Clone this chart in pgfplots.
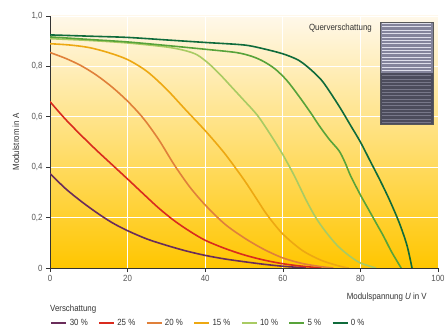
\documentclass[border=0pt]{standalone}
\usepackage{fontspec}
\setmainfont[FakeStretch=0.88]{Liberation Sans}
\usepackage{pgfplots}
\pgfplotsset{compat=1.18}
\definecolor{cthirty}{HTML}{6A2C5A}
\definecolor{ctwentyfive}{HTML}{D92B1E}
\definecolor{ctwenty}{HTML}{E0803A}
\definecolor{cfifteen}{HTML}{EDA812}
\definecolor{cten}{HTML}{A9CB63}
\definecolor{cfive}{HTML}{58A33A}
\definecolor{czero}{HTML}{0F6B3B}
\definecolor{bgtop}{HTML}{FFF8EA}
\definecolor{bgmid}{HTML}{FFE590}
\definecolor{bgbot}{HTML}{FFC600}
\definecolor{txtgray}{HTML}{555555}
\definecolor{boxlight}{RGB}{132,132,155}
\definecolor{boxlines}{RGB}{222,222,234}
\definecolor{boxdark}{RGB}{76,76,92}
\definecolor{boxdlines}{RGB}{120,120,138}
\begin{document}
\begin{tikzpicture}[font=\fontsize{9}{11}\selectfont]
\useasboundingbox (-50bp,-62bp) rectangle (395bp,268bp);
\begin{axis}[
  at={(0,0)}, anchor=south west,
  scale only axis, width=388bp, height=252bp,
  xmin=0, xmax=100, ymin=0, ymax=1,
  axis x line*=bottom, axis y line*=left,
  axis line style={draw=black!80, line width=0.8bp},
  axis background/.style={shade, top color=bgtop, middle color=bgmid, bottom color=bgbot},
  xtick={0,20,40,60,80,100},
  ytick={0,0.2,0.4,0.6,0.8,1.0},
  yticklabels={0,{0,2},{0,4},{0,6},{0,8},{1,0}},
  /pgf/number format/assume math mode=true,
  tick label style={text=txtgray, font=\fontsize{9}{11}\selectfont},
  tick align=outside, major tick length=4bp,
  tick style={draw=black!80, line width=0.6bp},
  grid=major, grid style={white, line width=0.8bp},
  xlabel={Modulspannung \textit{U} in V},
  xlabel style={at={(axis description cs:0.98,0)}, anchor=east, yshift=-29bp, text=black!80},
  ylabel={Modulstrom in A},
  ylabel style={at={(axis description cs:-0.088,0.5)}, anchor=center, text=black!80},
  legend columns=-1,
  legend style={at={(axis description cs:0,-0.218)}, anchor=west, draw=none, fill=none,
    inner sep=0pt, font=\fontsize{9}{11}\selectfont, text=black!80,
    /tikz/every even column/.append style={column sep=8bp}},
  legend image code/.code={\draw[line width=2.6bp] (0bp,0bp) -- (15bp,0bp);},
  every axis plot/.append style={line width=1.6bp, smooth, tension=0.5},
]
\addplot[cthirty] coordinates {(0,0.375)(4,0.315)(8,0.265)(12,0.22)(16,0.18)(20,0.148)(25,0.115)(30,0.09)(35,0.068)(40,0.05)(45,0.036)(50,0.025)(55,0.015)(60,0.007)(66,0)};
\addlegendentry{30 \%}
\addplot[ctwentyfive] coordinates {(0,0.66)(4,0.59)(8,0.527)(12,0.467)(16,0.41)(20,0.353)(24,0.295)(28,0.238)(32,0.188)(36,0.146)(40,0.11)(45,0.078)(50,0.052)(55,0.032)(60,0.017)(65,0.007)(70,0)};
\addlegendentry{25 \%}
\addplot[ctwenty] coordinates {(0,0.855)(4,0.832)(8,0.803)(12,0.765)(16,0.718)(20,0.662)(24,0.595)(28,0.51)(32,0.41)(36,0.322)(40,0.25)(45,0.175)(50,0.12)(55,0.075)(60,0.04)(65,0.018)(70,0.005)(73,0)};
\addlegendentry{20 \%}
\addplot[cfifteen] coordinates {(0,0.89)(5,0.885)(10,0.875)(15,0.855)(20,0.827)(25,0.78)(30,0.71)(35,0.627)(40,0.545)(45,0.455)(50,0.35)(53,0.28)(56,0.21)(60,0.135)(65,0.07)(70,0.03)(75,0.006)(77,0)};
\addlegendentry{15 \%}
\addplot[cten] coordinates {(0,0.91)(10,0.903)(20,0.893)(30,0.877)(35,0.862)(38,0.845)(41,0.81)(44,0.765)(47,0.715)(50,0.665)(53.5,0.605)(57,0.525)(60,0.45)(63,0.365)(66,0.27)(68.5,0.2)(71,0.145)(74,0.09)(77,0.05)(80,0.02)(84,0)};
\addlegendentry{10 \%}
\addplot[cfive] coordinates {(0,0.917)(10,0.907)(20,0.897)(30,0.883)(40,0.868)(48,0.855)(52,0.84)(55,0.82)(58,0.79)(61,0.745)(64,0.685)(67,0.62)(69.6,0.56)(72,0.51)(74.5,0.465)(76,0.42)(77.5,0.365)(80,0.29)(82,0.235)(84,0.18)(86,0.125)(88,0.065)(90.5,0)};
\addlegendentry{5 \%}
\addplot[czero] coordinates {(0,0.925)(10,0.92)(20,0.915)(30,0.905)(40,0.895)(50,0.885)(55,0.87)(60,0.85)(64,0.825)(67,0.79)(70,0.745)(72.5,0.69)(75,0.63)(77.5,0.565)(80,0.5)(82.5,0.425)(85,0.35)(87.5,0.27)(90,0.18)(92,0.09)(93.3,0)};
\addlegendentry{0 \%}
\end{axis}
\node[anchor=west, inner sep=0pt, text=black!80] at (0bp,-41bp) {Verschattung};
\node[anchor=east, inner sep=0pt, text=black!80] at (322bp,240bp) {Querverschattung};
% inset module
\fill[boxlight] (330bp,195bp) rectangle (383bp,245.5bp);
\fill[boxdark] (330bp,143bp) rectangle (383bp,195bp);
\foreach \i in {0,...,14} {
  \draw[boxlines, line width=0.9bp] (332bp,{197.5bp+\i*3.35bp}) -- (381bp,{197.5bp+\i*3.35bp});
  \draw[boxdlines, line width=0.8bp] (332bp,{145.5bp+\i*3.35bp}) -- (381bp,{145.5bp+\i*3.35bp});
}
\draw[black!65, line width=1bp] (330bp,143bp) rectangle (383bp,245.5bp);
\end{tikzpicture}
\end{document}
